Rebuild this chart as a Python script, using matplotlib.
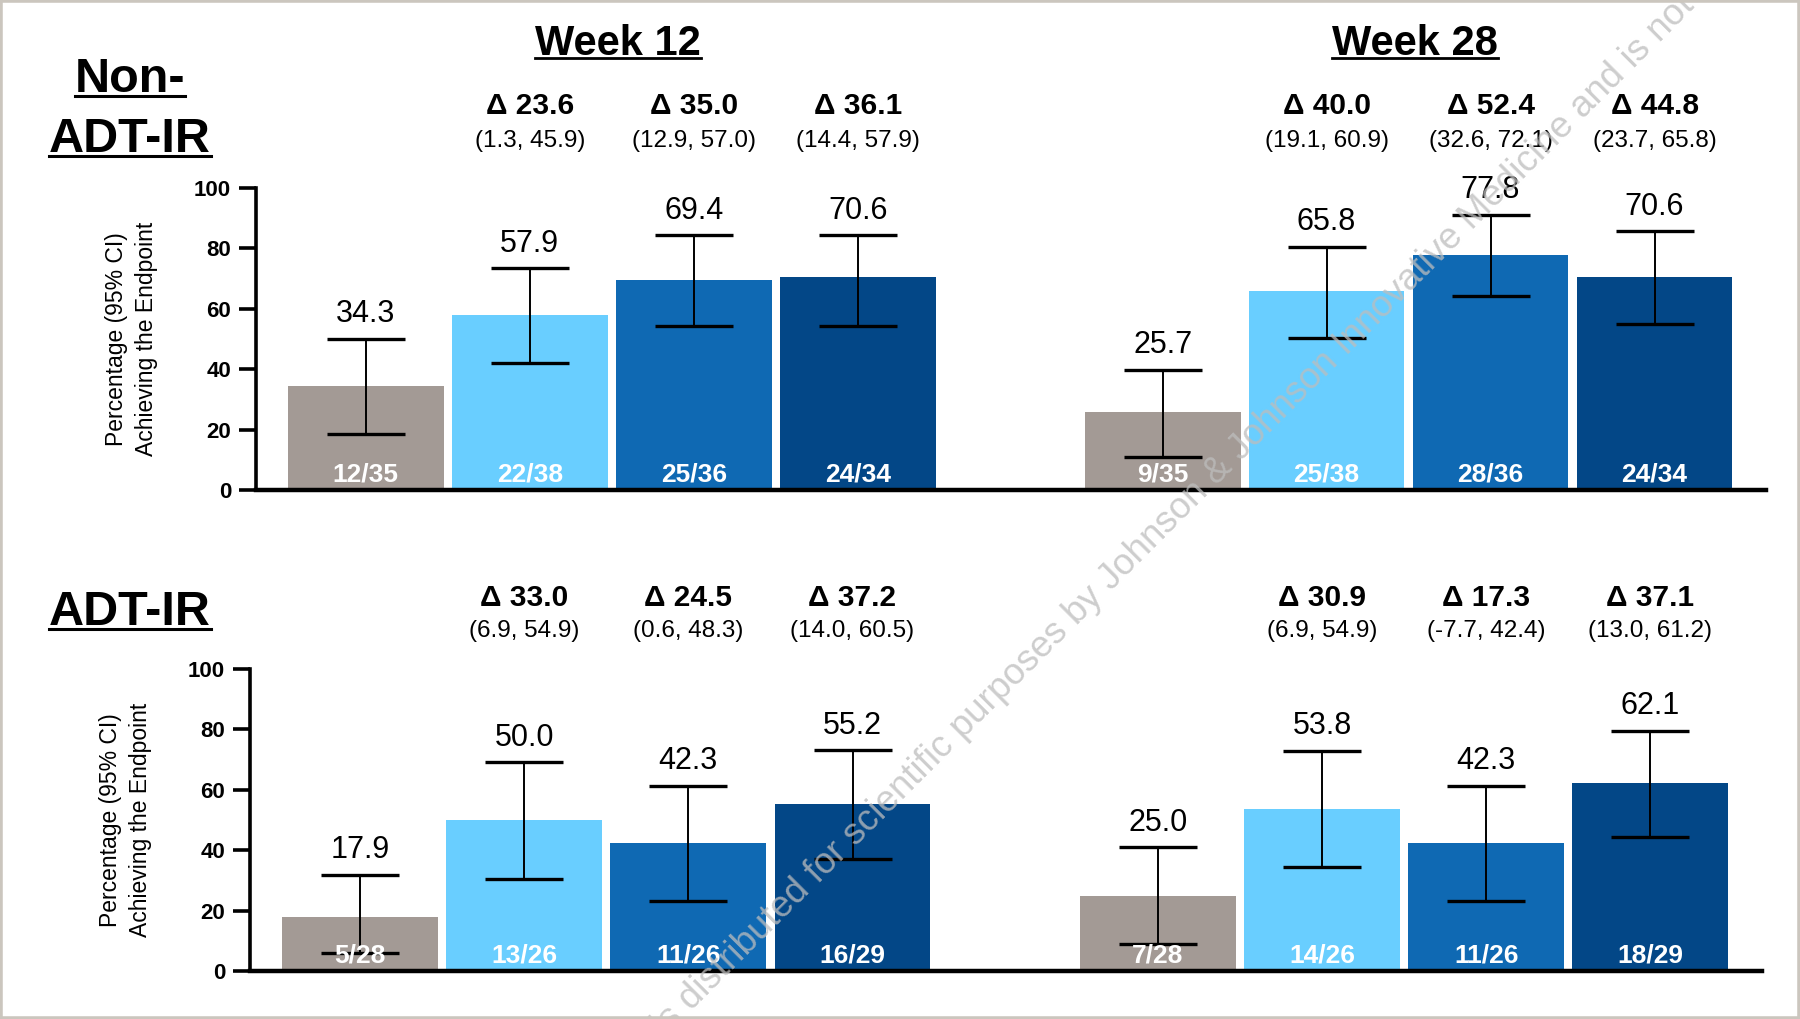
import matplotlib
matplotlib.use('Agg')
import matplotlib.pyplot as plt
from matplotlib.lines import Line2D
from matplotlib.patches import Rectangle

plt.rcParams['font.family'] = ['Liberation Sans', 'DejaVu Sans']

# ---------------- data ----------------
weeks = ['Week 12', 'Week 28']
populations = ['Non-\nADT-IR', 'ADT-IR']
arm_colors = ['#A39A95', '#69CEFF', '#0F69B3', '#034787']

# Non-ADT-IR
non_w12_pct = [34.3, 57.9, 69.4, 70.6]
non_w12_lo = [18.5, 42.0, 54.2, 54.2]
non_w12_hi = [50.0, 73.4, 84.3, 84.3]
non_w12_n = ['12/35', '22/38', '25/36', '24/34']
non_w12_delta = ['Δ 23.6', 'Δ 35.0', 'Δ 36.1']
non_w12_ci = ['(1.3, 45.9)', '(12.9, 57.0)', '(14.4, 57.9)']

non_w28_pct = [25.7, 65.8, 77.8, 70.6]
non_w28_lo = [10.8, 50.4, 64.1, 55.0]
non_w28_hi = [39.9, 80.6, 91.0, 85.6]
non_w28_n = ['9/35', '25/38', '28/36', '24/34']
non_w28_delta = ['Δ 40.0', 'Δ 52.4', 'Δ 44.8']
non_w28_ci = ['(19.1, 60.9)', '(32.6, 72.1)', '(23.7, 65.8)']

# ADT-IR
adt_w12_pct = [17.9, 50.0, 42.3, 55.2]
adt_w12_lo = [6.1, 30.6, 23.2, 37.0]
adt_w12_hi = [31.9, 69.1, 61.2, 73.1]
adt_w12_n = ['5/28', '13/26', '11/26', '16/29']
adt_w12_delta = ['Δ 33.0', 'Δ 24.5', 'Δ 37.2']
adt_w12_ci = ['(6.9, 54.9)', '(0.6, 48.3)', '(14.0, 60.5)']

adt_w28_pct = [25.0, 53.8, 42.3, 62.1]
adt_w28_lo = [8.8, 34.5, 23.2, 44.3]
adt_w28_hi = [40.9, 72.9, 61.2, 79.6]
adt_w28_n = ['7/28', '14/26', '11/26', '18/29']
adt_w28_delta = ['Δ 30.9', 'Δ 17.3', 'Δ 37.1']
adt_w28_ci = ['(6.9, 54.9)', '(-7.7, 42.4)', '(13.0, 61.2)']

yticks = [0, 20, 40, 60, 80, 100]
ylabel = 'Percentage (95% CI)\nAchieving the Endpoint'
watermark = 'is distributed for scientific purposes by Johnson & Johnson Innovative Medicine and is not'

# ---------------- layout ----------------
W, H = 1800, 1019
fig = plt.figure(figsize=(W / 100, H / 100), dpi=100)
fig.patch.set_facecolor('white')

group_x = [[0, 1, 2, 3], [4.86, 5.86, 6.86, 7.86]]
bar_w = 0.95

def fy(py):
    return 1 - py / H

ax_top = fig.add_axes([256 / W, fy(490), 1510 / W, (490 - 188) / H])
ax_bot = fig.add_axes([250 / W, fy(971), 1512 / W, (971 - 669) / H])

panels = [
    (ax_top, [(non_w12_pct, non_w12_lo, non_w12_hi, non_w12_n, non_w12_delta, non_w12_ci),
              (non_w28_pct, non_w28_lo, non_w28_hi, non_w28_n, non_w28_delta, non_w28_ci)], (124.5, 113.5)),
    (ax_bot, [(adt_w12_pct, adt_w12_lo, adt_w12_hi, adt_w12_n, adt_w12_delta, adt_w12_ci),
              (adt_w28_pct, adt_w28_lo, adt_w28_hi, adt_w28_n, adt_w28_delta, adt_w28_ci)], (121.0, 110.5)),
]

for ax, groups, (ydelta, yci) in panels:
    for gx, (pct, lo, hi, n, delta, ci) in zip(group_x, groups):
        ax.bar(gx, pct, width=bar_w, color=arm_colors, zorder=2)
        yerr = [[p - l for p, l in zip(pct, lo)], [h - p for p, h in zip(pct, hi)]]
        ax.errorbar(gx, pct, yerr=yerr, fmt='none', ecolor='black', elinewidth=1.4,
                    capsize=28, capthick=2.4, zorder=3)
        for x, p, h, lab in zip(gx, pct, hi, n):
            ax.annotate(f'{p:.1f}', xy=(x, h), xytext=(0, 7), textcoords='offset points',
                        ha='center', va='bottom', fontsize=22, color='black', zorder=4,
                        annotation_clip=False)
            ax.text(x, 1.0, lab, ha='center', va='bottom', fontsize=19, color='white',
                    weight='bold', zorder=5)
        for x, d, c in zip(gx[1:], delta, ci):
            ax.text(x, ydelta, d, ha='center', va='baseline', fontsize=21.5, weight='bold',
                    clip_on=False)
            ax.text(x, yci, c, ha='center', va='baseline', fontsize=17.5, clip_on=False)

    ax.set_xlim(-0.67, 8.54)
    ax.set_ylim(0, 100)
    ax.set_yticks(yticks)
    ax.set_xticks([])
    for s in ['top', 'right']:
        ax.spines[s].set_visible(False)
    ax.spines['left'].set_linewidth(2.6)
    ax.spines['bottom'].set_linewidth(3.2)
    ax.spines['left'].set_zorder(6)
    ax.spines['bottom'].set_zorder(6)
    ax.tick_params(axis='y', direction='out', length=12, width=2.6, pad=6, labelsize=16)
    for lab in ax.get_yticklabels():
        lab.set_fontweight('bold')
    ax.set_ylabel(ylabel, fontsize=16.5, labelpad=26, linespacing=1.35)
    ax.patch.set_alpha(0)

# ---------------- titles / row labels ----------------
fig.canvas.draw()
renderer = fig.canvas.get_renderer()

def underlined(x, y, s, size, gap_px, lw):
    t = fig.text(x, y, s, ha='center', va='baseline', fontsize=size, weight='bold')
    bb = t.get_window_extent(renderer)
    yl = y - gap_px / H
    fig.add_artist(Line2D([bb.x0 / W, bb.x1 / W], [yl, yl], color='black', lw=lw,
                          transform=fig.transFigure))
    return t

for gx, wk in zip(group_x, weeks):
    xc = (gx[0] + gx[-1]) / 2 + 0.04
    px = ax_top.transData.transform((xc, 0))[0]
    underlined(px / W, fy(55), wk, 30, 3, 2.0)

row_y = [[fy(92), fy(152)], [fy(625)]]
for lines, ys in zip([populations[0].split('\n'), [populations[1]]], row_y):
    for s, y in zip(lines, ys):
        underlined(130 / W, y, s, 35, 4, 2.2)

# watermark
fig.text(1181 / W, fy(522), watermark, rotation=45, rotation_mode='anchor', ha='center',
         va='baseline', fontsize=26.5, color='#BDBDBD', alpha=0.75, zorder=10)

# border
fig.add_artist(Rectangle((0, 0), 1, 1, transform=fig.transFigure, fill=False,
                         edgecolor='#CBC6BE', lw=4, zorder=20))

fig.savefig('out.png', dpi=100)
